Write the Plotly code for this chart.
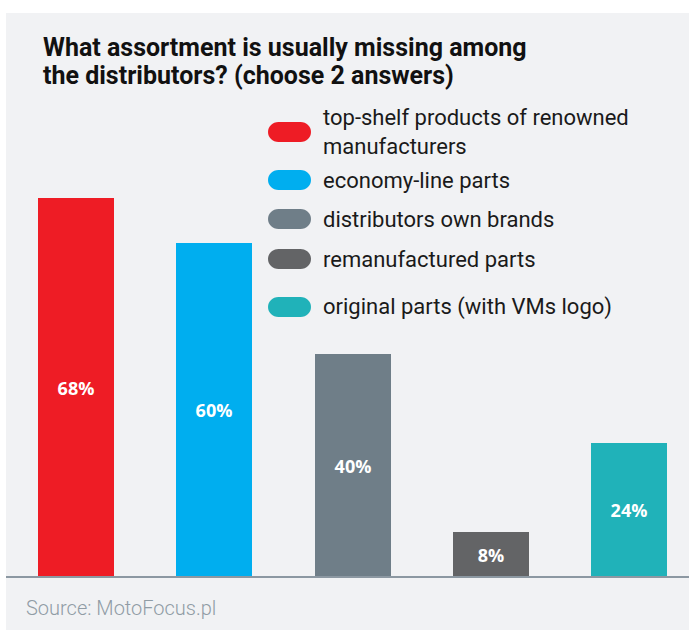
import plotly.graph_objects as go

categories = ["top-shelf products of renowned<br>manufacturers", "economy-line parts",
              "distributors own brands", "remanufactured parts", "original parts (with VMs logo)"]
values = [68, 60, 40, 8, 24]
labels = ["68%", "60%", "40%", "8%", "24%"]
colors = ["#ee1c25", "#00aeef", "#6f7e88", "#636466", "#20b2b9"]
title_lines = ["What assortment is usually missing among", "the distributors? (choose 2 answers)"]
source_text = "Source: MotoFocus.pl"

W, H = 689, 630
ML, MR, MT, MB = 6, 0, 13, 53
PW, PH = W - ML - MR, H - MT - MB
PANEL = "#f1f2f4"

def xp(px):
    return (px - ML) / PW

def yp(py):
    return (H - MB - py) / PH

fig = go.Figure()
fig.add_trace(go.Bar(
    x=list(range(len(values))), y=values, width=0.5495,
    marker=dict(color=colors, line=dict(width=0)),
    text=labels, textposition="inside", insidetextanchor="middle",
    textfont=dict(family="Open Sans", size=18, color="white", weight="bold"),
    textangle=0, hoverinfo="skip", cliponaxis=False,
))

shapes = []
shapes.append(dict(type="rect", xref="paper", yref="paper", x0=xp(0), x1=xp(ML), y0=yp(H), y1=yp(0),
                   fillcolor="white", line=dict(width=0), layer="below"))
shapes.append(dict(type="rect", xref="paper", yref="paper", x0=xp(0), x1=xp(W), y0=yp(MT), y1=yp(0),
                   fillcolor="white", line=dict(width=0), layer="below"))
shapes.append(dict(type="line", xref="paper", yref="paper", x0=0, x1=1, y0=0, y1=0,
                   line=dict(color="#8c98a2", width=2), layer="above"))

annotations = []
for line, ty in zip(title_lines, [47, 75]):
    annotations.append(dict(text="<b>" + line + "</b>", xref="paper", yref="paper",
                            x=xp(41), y=yp(ty), xanchor="left", yanchor="middle", align="left",
                            showarrow=False, font=dict(family="Roboto", size=25, color="#111111")))

leg_y = [132, 180, 219, 259, 307]
pill = ("M -11,-10 L 11,-10 C 17,-10 21.5,-5.5 21.5,0 C 21.5,5.5 17,10 11,10 "
        "L -11,10 C -17,10 -21.5,5.5 -21.5,0 C -21.5,-5.5 -17,-10 -11,-10 Z")
for cat, col, ly in zip(categories, colors, leg_y):
    shapes.append(dict(type="path", xref="paper", yref="paper", xsizemode="pixel", ysizemode="pixel",
                       xanchor=xp(289.5), yanchor=yp(ly), path=pill, fillcolor=col,
                       line=dict(width=0)))
    annotations.append(dict(text=cat, xref="paper", yref="paper", x=xp(321), y=yp(ly),
                            xanchor="left", yanchor="middle", align="left", showarrow=False,
                            font=dict(family="Roboto", size=22, color="#1a1a1a")))

annotations.append(dict(text=source_text, xref="paper", yref="paper", x=xp(24), y=yp(608),
                        xanchor="left", yanchor="middle", showarrow=False,
                        font=dict(family="Roboto", size=20, color="#909ca5", weight=300)))

fig.update_layout(
    width=W, height=H, margin=dict(l=ML, r=MR, t=MT, b=MB, pad=0),
    paper_bgcolor=PANEL, plot_bgcolor=PANEL, showlegend=False,
    shapes=shapes, annotations=annotations, bargap=0,
    xaxis=dict(range=[-0.506, 4.432], showgrid=False, zeroline=False, showticklabels=False,
               showline=False, ticks="", fixedrange=True),
    yaxis=dict(range=[0, 101.26], showgrid=False, zeroline=False, showticklabels=False,
               showline=False, ticks="", fixedrange=True),
)
fig.write_html("out.html")
